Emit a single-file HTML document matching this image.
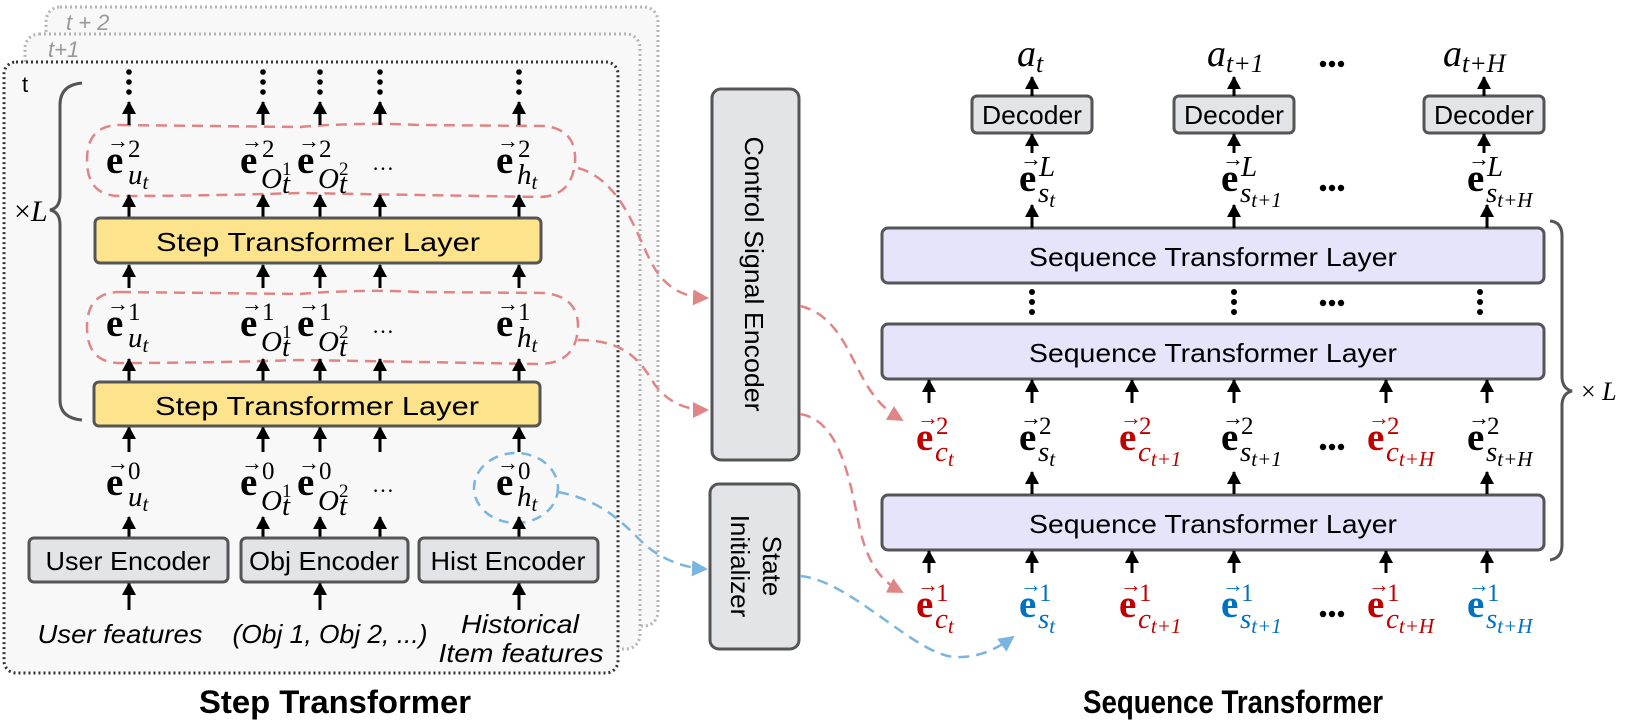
<!DOCTYPE html>
<html><head><meta charset="utf-8"><style>
html,body{margin:0;padding:0;background:#fff}
svg{display:block}
.E{font-family:"Liberation Serif",serif;font-weight:bold;font-size:39px}
.A{font-family:"Liberation Serif",serif;font-size:22px;transform:translateY(-3px)}
.P{font-family:"Liberation Serif",serif;font-size:25px;transform:translateY(-1px)}
.S{font-family:"Liberation Serif",serif;font-style:italic;font-size:29px}
.T{font-size:21px}
.bx{font-family:"Liberation Sans",sans-serif;font-size:26px;text-anchor:middle}
.ft{font-family:"Liberation Sans",sans-serif;font-style:italic;font-size:26px;text-anchor:middle}
</style></head><body>
<svg width="1627" height="724" viewBox="0 0 1627 724" xmlns="http://www.w3.org/2000/svg">
<defs>
<marker id="ah" markerUnits="userSpaceOnUse" markerWidth="14" markerHeight="14" refX="12" refY="7" orient="auto"><path d="M0,0 L13,7 L0,14 z" fill="#000"/></marker>
<marker id="ar" markerUnits="userSpaceOnUse" markerWidth="16" markerHeight="16" refX="14" refY="8" orient="auto"><path d="M0,0 L16,8 L0,16 z" fill="#e08585"/></marker>
<marker id="ab" markerUnits="userSpaceOnUse" markerWidth="16" markerHeight="16" refX="14" refY="8" orient="auto"><path d="M0,0 L16,8 L0,16 z" fill="#7ab4e0"/></marker>
</defs>

<!-- frames -->
<rect x="46" y="7" width="612" height="619" rx="14" fill="#f8f8f8" stroke="#b5b5b5" stroke-width="3" stroke-dasharray="2 3"/>
<rect x="25" y="34" width="615" height="615" rx="14" fill="#f8f8f8" stroke="#b5b5b5" stroke-width="3" stroke-dasharray="2 3"/>
<rect x="4" y="62" width="614" height="611" rx="12" fill="#f8f8f8" stroke="#333" stroke-width="3" stroke-dasharray="2 3"/>
<text x="66" y="30" font-family="Liberation Sans,sans-serif" font-style="italic" font-size="22" fill="#999">t + 2</text>
<text x="48" y="57" font-family="Liberation Sans,sans-serif" font-style="italic" font-size="22" fill="#999">t+1</text>
<text x="22" y="92" font-family="Liberation Sans,sans-serif" font-size="22" fill="#000">t</text>

<!-- left brace -->
<path d="M82,83 Q60,85 60,105 L60,195 Q60,208 50,210 Q60,212 60,225 L60,400 Q60,418 82,420" fill="none" stroke="#555" stroke-width="3"/>
<text x="14" y="221" font-family="Liberation Serif,serif" font-size="30">×<tspan font-style="italic">L</tspan></text>

<!-- red loops -->
<path d="M120,125 L300,127 Q360,122 420,125 L545,126 Q577,130 575,162 Q572,196 540,197 L300,193 Q200,196 120,196 Q87,196 87,160 Q87,125 120,125 Z" fill="none" stroke="#e08585" stroke-width="2.5" stroke-dasharray="11 7"/>
<path d="M120,292 L300,294 Q360,289 420,292 L545,293 Q579,297 578,328 Q576,363 540,364 L300,360 Q200,363 120,363 Q87,363 87,327 Q87,292 120,292 Z" fill="none" stroke="#e08585" stroke-width="2.5" stroke-dasharray="11 7"/>
<!-- blue loop -->
<ellipse cx="516" cy="488" rx="42" ry="35" fill="none" stroke="#7ab4e0" stroke-width="2.5" stroke-dasharray="10 7"/>

<!-- left vertical dots -->
<g fill="#000">
<circle cx="129" cy="72" r="2.8"/><circle cx="129" cy="82" r="2.8"/><circle cx="129" cy="92" r="2.8"/>
<circle cx="263" cy="72" r="2.8"/><circle cx="263" cy="82" r="2.8"/><circle cx="263" cy="92" r="2.8"/>
<circle cx="320" cy="72" r="2.8"/><circle cx="320" cy="82" r="2.8"/><circle cx="320" cy="92" r="2.8"/>
<circle cx="380" cy="72" r="2.8"/><circle cx="380" cy="82" r="2.8"/><circle cx="380" cy="92" r="2.8"/>
<circle cx="519" cy="72" r="2.8"/><circle cx="519" cy="82" r="2.8"/><circle cx="519" cy="92" r="2.8"/>
</g>

<!-- left arrows -->
<g stroke="#000" stroke-width="3" marker-end="url(#ah)">
<line x1="129" y1="125" x2="129" y2="102"/><line x1="263" y1="125" x2="263" y2="102"/><line x1="320" y1="125" x2="320" y2="102"/><line x1="380" y1="125" x2="380" y2="102"/><line x1="519" y1="125" x2="519" y2="102"/>
<line x1="129" y1="217" x2="129" y2="195"/><line x1="263" y1="217" x2="263" y2="195"/><line x1="320" y1="217" x2="320" y2="195"/><line x1="380" y1="217" x2="380" y2="195"/><line x1="519" y1="217" x2="519" y2="195"/>
<line x1="129" y1="288" x2="129" y2="265"/><line x1="263" y1="288" x2="263" y2="265"/><line x1="320" y1="288" x2="320" y2="265"/><line x1="380" y1="288" x2="380" y2="265"/><line x1="519" y1="288" x2="519" y2="265"/>
<line x1="129" y1="381" x2="129" y2="359"/><line x1="263" y1="381" x2="263" y2="359"/><line x1="320" y1="381" x2="320" y2="359"/><line x1="380" y1="381" x2="380" y2="359"/><line x1="519" y1="381" x2="519" y2="359"/>
<line x1="129" y1="452" x2="129" y2="427"/><line x1="263" y1="452" x2="263" y2="427"/><line x1="320" y1="452" x2="320" y2="427"/><line x1="380" y1="452" x2="380" y2="427"/><line x1="519" y1="452" x2="519" y2="427"/>
<line x1="129" y1="538" x2="129" y2="517"/><line x1="263" y1="538" x2="263" y2="517"/><line x1="320" y1="538" x2="320" y2="517"/><line x1="380" y1="538" x2="380" y2="517"/><line x1="519" y1="538" x2="519" y2="517"/>
<line x1="129" y1="610" x2="129" y2="583"/><line x1="320" y1="610" x2="320" y2="583"/><line x1="519" y1="610" x2="519" y2="583"/>
</g>

<!-- step boxes -->
<rect x="95" y="218" width="446" height="45" rx="5" fill="#fde38c" stroke="#555" stroke-width="3"/>
<text x="318" y="251" class="bx" font-size="30" textLength="324" lengthAdjust="spacingAndGlyphs">Step Transformer Layer</text>
<rect x="94" y="382" width="446" height="44" rx="5" fill="#fde38c" stroke="#555" stroke-width="3"/>
<text x="317" y="415" class="bx" font-size="30" textLength="324" lengthAdjust="spacingAndGlyphs">Step Transformer Layer</text>

<!-- encoders -->
<rect x="29" y="538" width="199" height="44" rx="5" fill="#e3e4e8" stroke="#555" stroke-width="3"/>
<text x="128" y="570" class="bx" font-size="27" textLength="165" lengthAdjust="spacingAndGlyphs">User Encoder</text>
<rect x="241" y="538" width="167" height="44" rx="5" fill="#e3e4e8" stroke="#555" stroke-width="3"/>
<text x="324" y="570" class="bx" font-size="27" textLength="150" lengthAdjust="spacingAndGlyphs">Obj Encoder</text>
<rect x="419" y="538" width="179" height="44" rx="5" fill="#e3e4e8" stroke="#555" stroke-width="3"/>
<text x="508" y="570" class="bx" font-size="27" textLength="155" lengthAdjust="spacingAndGlyphs">Hist Encoder</text>

<text x="120" y="643" class="ft" textLength="165" lengthAdjust="spacingAndGlyphs">User features</text>
<text x="330" y="643" class="ft" textLength="195" lengthAdjust="spacingAndGlyphs">(Obj 1, Obj 2, ...)</text>
<text x="520" y="633" class="ft" textLength="118" lengthAdjust="spacingAndGlyphs">Historical</text>
<text x="521" y="662" class="ft" textLength="165" lengthAdjust="spacingAndGlyphs">Item features</text>

<!-- left labels row 2 -->
<g fill="#000">
<text x="106" y="173" class="E">e</text><text x="107" y="151" class="A">→</text><text x="128" y="158" class="P">2</text><text x="128" y="184" class="S">u<tspan class="T" dy="5">t</tspan></text>
<text x="240" y="173" class="E">e</text><text x="241" y="151" class="A">→</text><text x="262" y="158" class="P">2</text><text x="261" y="188" class="S">O</text><text x="282" y="175" font-family="Liberation Serif" font-size="19">1</text><text x="282" y="193" class="S" font-size="20">t</text>
<text x="297" y="173" class="E">e</text><text x="298" y="151" class="A">→</text><text x="319" y="158" class="P">2</text><text x="318" y="188" class="S">O</text><text x="339" y="175" font-family="Liberation Serif" font-size="19">2</text><text x="339" y="193" class="S" font-size="20">t</text>
<text x="372" y="170" font-family="Liberation Serif" font-size="22">…</text>
<text x="496" y="173" class="E">e</text><text x="497" y="151" class="A">→</text><text x="518" y="158" class="P">2</text><text x="517" y="184" class="S">h<tspan class="T" dy="5">t</tspan></text>
</g>
<!-- row 1 -->
<g fill="#000">
<text x="106" y="336" class="E">e</text><text x="107" y="314" class="A">→</text><text x="128" y="321" class="P">1</text><text x="128" y="347" class="S">u<tspan class="T" dy="5">t</tspan></text>
<text x="240" y="336" class="E">e</text><text x="241" y="314" class="A">→</text><text x="262" y="321" class="P">1</text><text x="261" y="351" class="S">O</text><text x="282" y="338" font-family="Liberation Serif" font-size="19">1</text><text x="282" y="356" class="S" font-size="20">t</text>
<text x="297" y="336" class="E">e</text><text x="298" y="314" class="A">→</text><text x="319" y="321" class="P">1</text><text x="318" y="351" class="S">O</text><text x="339" y="338" font-family="Liberation Serif" font-size="19">2</text><text x="339" y="356" class="S" font-size="20">t</text>
<text x="372" y="333" font-family="Liberation Serif" font-size="22">…</text>
<text x="496" y="336" class="E">e</text><text x="497" y="314" class="A">→</text><text x="518" y="321" class="P">1</text><text x="517" y="347" class="S">h<tspan class="T" dy="5">t</tspan></text>
</g>
<!-- row 0 -->
<g fill="#000">
<text x="106" y="495" class="E">e</text><text x="107" y="473" class="A">→</text><text x="128" y="480" class="P">0</text><text x="128" y="506" class="S">u<tspan class="T" dy="5">t</tspan></text>
<text x="240" y="495" class="E">e</text><text x="241" y="473" class="A">→</text><text x="262" y="480" class="P">0</text><text x="261" y="510" class="S">O</text><text x="282" y="497" font-family="Liberation Serif" font-size="19">1</text><text x="282" y="515" class="S" font-size="20">t</text>
<text x="297" y="495" class="E">e</text><text x="298" y="473" class="A">→</text><text x="319" y="480" class="P">0</text><text x="318" y="510" class="S">O</text><text x="339" y="497" font-family="Liberation Serif" font-size="19">2</text><text x="339" y="515" class="S" font-size="20">t</text>
<text x="372" y="492" font-family="Liberation Serif" font-size="22">…</text>
<text x="496" y="495" class="E">e</text><text x="497" y="473" class="A">→</text><text x="518" y="480" class="P">0</text><text x="517" y="506" class="S">h<tspan class="T" dy="5">t</tspan></text>
</g>

<text x="335" y="713" font-family="Liberation Sans,sans-serif" font-weight="bold" font-size="32" text-anchor="middle" textLength="272" lengthAdjust="spacingAndGlyphs">Step Transformer</text>

<!-- middle boxes -->
<rect x="712" y="89" width="87" height="371" rx="9" fill="#e3e4e8" stroke="#555" stroke-width="3"/>
<text transform="translate(745,274) rotate(90)" class="bx" font-size="30" textLength="275" lengthAdjust="spacingAndGlyphs">Control Signal Encoder</text>
<rect x="710" y="484" width="89" height="165" rx="9" fill="#e3e4e8" stroke="#555" stroke-width="3"/>
<text transform="translate(763,566) rotate(90)" class="bx" font-size="30">State</text>
<text transform="translate(731,566) rotate(90)" class="bx" font-size="30">Initializer</text>

<!-- connectors -->
<g fill="none" stroke-width="2.5" stroke-dasharray="11 7">
<path d="M578,168 C620,180 635,230 650,260 C665,290 685,297 707,298" stroke="#e08585" marker-end="url(#ar)"/>
<path d="M578,340 C625,340 640,360 655,385 C670,405 690,410 707,410" stroke="#e08585" marker-end="url(#ar)"/>
<path d="M800,306 C840,315 850,360 870,390 C880,405 890,413 902,420" stroke="#e08585" marker-end="url(#ar)"/>
<path d="M800,414 C840,420 850,480 860,530 C870,570 885,583 902,592" stroke="#e08585" marker-end="url(#ar)"/>
<path d="M558,492 C600,500 620,520 640,540 C660,560 685,568 706,569" stroke="#7ab4e0" marker-end="url(#ab)"/>
<path d="M800,576 C850,580 915,655 955,657 C980,658 998,648 1013,637" stroke="#7ab4e0" marker-end="url(#ab)"/>
</g>

<!-- right side boxes -->
<rect x="882" y="228" width="662" height="55" rx="6" fill="#e6e4fb" stroke="#555" stroke-width="3"/>
<text x="1213" y="266" class="bx" font-size="30" textLength="368" lengthAdjust="spacingAndGlyphs">Sequence Transformer Layer</text>
<rect x="882" y="324" width="662" height="55" rx="6" fill="#e6e4fb" stroke="#555" stroke-width="3"/>
<text x="1213" y="362" class="bx" font-size="30" textLength="368" lengthAdjust="spacingAndGlyphs">Sequence Transformer Layer</text>
<rect x="882" y="495" width="662" height="55" rx="6" fill="#e6e4fb" stroke="#555" stroke-width="3"/>
<text x="1213" y="533" class="bx" font-size="30" textLength="368" lengthAdjust="spacingAndGlyphs">Sequence Transformer Layer</text>

<rect x="972" y="96" width="120" height="37" rx="5" fill="#e3e4e8" stroke="#555" stroke-width="3"/>
<text x="1032" y="124" class="bx" font-size="26" textLength="100" lengthAdjust="spacingAndGlyphs">Decoder</text>
<rect x="1174" y="96" width="120" height="37" rx="5" fill="#e3e4e8" stroke="#555" stroke-width="3"/>
<text x="1234" y="124" class="bx" font-size="26" textLength="100" lengthAdjust="spacingAndGlyphs">Decoder</text>
<rect x="1424" y="96" width="120" height="37" rx="5" fill="#e3e4e8" stroke="#555" stroke-width="3"/>
<text x="1484" y="124" class="bx" font-size="26" textLength="100" lengthAdjust="spacingAndGlyphs">Decoder</text>

<!-- right brace -->
<path d="M1550,221 Q1562,222 1562,236 L1562,378 Q1563,389 1572,391 Q1563,393 1562,404 L1562,545 Q1562,558 1550,560" fill="none" stroke="#555" stroke-width="3"/>
<text x="1581" y="400" font-family="Liberation Serif,serif" font-size="26">× <tspan font-style="italic">L</tspan></text>

<!-- right arrows -->
<g stroke="#000" stroke-width="3" marker-end="url(#ah)">
<line x1="1032" y1="96" x2="1032" y2="77"/><line x1="1234" y1="96" x2="1234" y2="77"/><line x1="1484" y1="96" x2="1484" y2="77"/>
<line x1="1032" y1="153" x2="1032" y2="134"/><line x1="1234" y1="153" x2="1234" y2="134"/><line x1="1484" y1="153" x2="1484" y2="134"/>
<line x1="1032" y1="228" x2="1032" y2="205"/><line x1="1234" y1="228" x2="1234" y2="205"/><line x1="1487" y1="228" x2="1487" y2="205"/>
<line x1="929" y1="403" x2="929" y2="380"/><line x1="1032" y1="403" x2="1032" y2="380"/><line x1="1132" y1="403" x2="1132" y2="380"/><line x1="1234" y1="403" x2="1234" y2="380"/><line x1="1386" y1="403" x2="1386" y2="380"/><line x1="1487" y1="403" x2="1487" y2="380"/>
<line x1="1032" y1="494" x2="1032" y2="472"/><line x1="1234" y1="494" x2="1234" y2="472"/><line x1="1487" y1="494" x2="1487" y2="472"/>
<line x1="929" y1="573" x2="929" y2="551"/><line x1="1032" y1="573" x2="1032" y2="551"/><line x1="1132" y1="573" x2="1132" y2="551"/><line x1="1234" y1="573" x2="1234" y2="551"/><line x1="1386" y1="573" x2="1386" y2="551"/><line x1="1487" y1="573" x2="1487" y2="551"/>
</g>

<!-- right dots -->
<g fill="#000">
<circle cx="1323" cy="64" r="3.2"/><circle cx="1332" cy="64" r="3.2"/><circle cx="1341" cy="64" r="3.2"/>
<circle cx="1323" cy="188" r="3.2"/><circle cx="1332" cy="188" r="3.2"/><circle cx="1341" cy="188" r="3.2"/>
<circle cx="1323" cy="303" r="3.2"/><circle cx="1332" cy="303" r="3.2"/><circle cx="1341" cy="303" r="3.2"/>
<circle cx="1323" cy="447" r="3.2"/><circle cx="1332" cy="447" r="3.2"/><circle cx="1341" cy="447" r="3.2"/>
<circle cx="1323" cy="614" r="3.2"/><circle cx="1332" cy="614" r="3.2"/><circle cx="1341" cy="614" r="3.2"/>
<circle cx="1032" cy="292" r="3"/><circle cx="1032" cy="302" r="3"/><circle cx="1032" cy="312" r="3"/>
<circle cx="1234" cy="292" r="3"/><circle cx="1234" cy="302" r="3"/><circle cx="1234" cy="312" r="3"/>
<circle cx="1480" cy="292" r="3"/><circle cx="1480" cy="302" r="3"/><circle cx="1480" cy="312" r="3"/>
</g>

<!-- a labels -->
<g font-family="Liberation Serif,serif" font-style="italic">
<text x="1017" y="66" font-size="38">a<tspan font-size="26" dy="6">t</tspan></text>
<text x="1207" y="66" font-size="38">a<tspan font-size="26" dy="6">t+1</tspan></text>
<text x="1443" y="66" font-size="38">a<tspan font-size="26" dy="6">t+H</tspan></text>
</g>

<!-- e^L row -->
<g fill="#000">
<text x="1019" y="191" class="E">e</text><text x="1020" y="169" class="A">→</text><text x="1039" y="176" class="S" font-size="24">L</text><text x="1038" y="202" class="S">s<tspan class="T" dy="5">t</tspan></text>
<text x="1221" y="191" class="E">e</text><text x="1222" y="169" class="A">→</text><text x="1241" y="176" class="S" font-size="24">L</text><text x="1240" y="202" class="S">s<tspan class="T" dy="5">t+1</tspan></text>
<text x="1467" y="191" class="E">e</text><text x="1468" y="169" class="A">→</text><text x="1487" y="176" class="S" font-size="24">L</text><text x="1486" y="202" class="S">s<tspan class="T" dy="5">t+H</tspan></text>
</g>

<!-- e^2 row -->
<g>
<text x="916" y="450" class="E" fill="#c00000">e</text><text x="917" y="428" class="A" fill="#c00000">→</text><text x="936" y="435" class="P" fill="#c00000">2</text><text x="935" y="461" class="S" fill="#c00000">c<tspan class="T" dy="5">t</tspan></text>
<text x="1019" y="450" class="E">e</text><text x="1020" y="428" class="A">→</text><text x="1039" y="435" class="P">2</text><text x="1038" y="461" class="S">s<tspan class="T" dy="5">t</tspan></text>
<text x="1119" y="450" class="E" fill="#c00000">e</text><text x="1120" y="428" class="A" fill="#c00000">→</text><text x="1139" y="435" class="P" fill="#c00000">2</text><text x="1138" y="461" class="S" fill="#c00000">c<tspan class="T" dy="5">t+1</tspan></text>
<text x="1221" y="450" class="E">e</text><text x="1222" y="428" class="A">→</text><text x="1241" y="435" class="P">2</text><text x="1240" y="461" class="S">s<tspan class="T" dy="5">t+1</tspan></text>
<text x="1367" y="450" class="E" fill="#c00000">e</text><text x="1368" y="428" class="A" fill="#c00000">→</text><text x="1387" y="435" class="P" fill="#c00000">2</text><text x="1386" y="461" class="S" fill="#c00000">c<tspan class="T" dy="5">t+H</tspan></text>
<text x="1467" y="450" class="E">e</text><text x="1468" y="428" class="A">→</text><text x="1487" y="435" class="P">2</text><text x="1486" y="461" class="S">s<tspan class="T" dy="5">t+H</tspan></text>
</g>

<!-- e^1 row -->
<g>
<text x="916" y="617" class="E" fill="#c00000">e</text><text x="917" y="595" class="A" fill="#c00000">→</text><text x="936" y="602" class="P" fill="#c00000">1</text><text x="935" y="628" class="S" fill="#c00000">c<tspan class="T" dy="5">t</tspan></text>
<text x="1019" y="617" class="E" fill="#0070c0">e</text><text x="1020" y="595" class="A" fill="#0070c0">→</text><text x="1039" y="602" class="P" fill="#0070c0">1</text><text x="1038" y="628" class="S" fill="#0070c0">s<tspan class="T" dy="5">t</tspan></text>
<text x="1119" y="617" class="E" fill="#c00000">e</text><text x="1120" y="595" class="A" fill="#c00000">→</text><text x="1139" y="602" class="P" fill="#c00000">1</text><text x="1138" y="628" class="S" fill="#c00000">c<tspan class="T" dy="5">t+1</tspan></text>
<text x="1221" y="617" class="E" fill="#0070c0">e</text><text x="1222" y="595" class="A" fill="#0070c0">→</text><text x="1241" y="602" class="P" fill="#0070c0">1</text><text x="1240" y="628" class="S" fill="#0070c0">s<tspan class="T" dy="5">t+1</tspan></text>
<text x="1367" y="617" class="E" fill="#c00000">e</text><text x="1368" y="595" class="A" fill="#c00000">→</text><text x="1387" y="602" class="P" fill="#c00000">1</text><text x="1386" y="628" class="S" fill="#c00000">c<tspan class="T" dy="5">t+H</tspan></text>
<text x="1467" y="617" class="E" fill="#0070c0">e</text><text x="1468" y="595" class="A" fill="#0070c0">→</text><text x="1487" y="602" class="P" fill="#0070c0">1</text><text x="1486" y="628" class="S" fill="#0070c0">s<tspan class="T" dy="5">t+H</tspan></text>
</g>

<text x="1233" y="713" font-family="Liberation Sans,sans-serif" font-weight="bold" font-size="32" text-anchor="middle" textLength="300" lengthAdjust="spacingAndGlyphs">Sequence Transformer</text>
</svg>
</body></html>
